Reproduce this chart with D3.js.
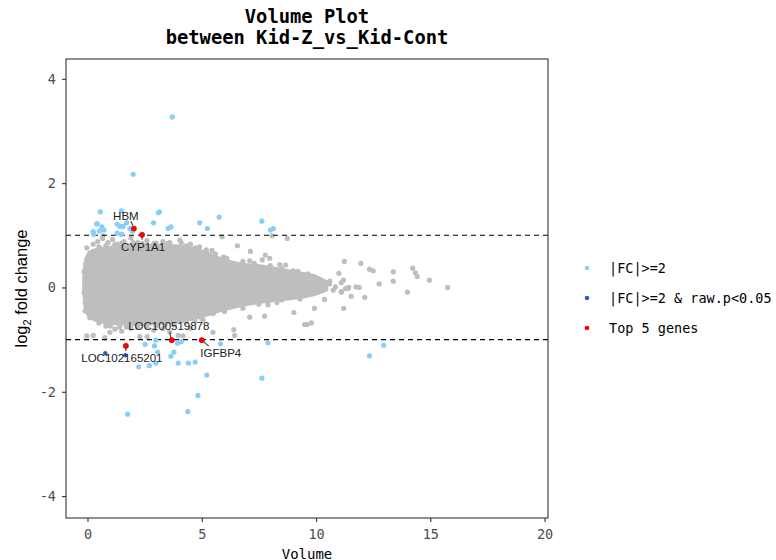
<!DOCTYPE html>
<html><head><meta charset="utf-8">
<script src="https://cdn.jsdelivr.net/npm/d3@7"></script>
<style>body{margin:0;background:#fff}svg{display:block}</style>
</head><body><svg id="c" width="776" height="560"></svg>
<script>
// ---------- data ----------
const titleLines = ["Volume Plot", "between Kid-Z_vs_Kid-Cont"];
const xTicks = [0, 5, 10, 15, 20];
const yTicks = [-4, -2, 0, 2, 4];
const thresholds = [1, -1];
const legendLabels = ["|FC|>=2", "|FC|>=2 & raw.p<0.05", "Top 5 genes"];

// dense core of non-significant genes (envelope)
const coreX     = [-0.14, -0.05, 0.25, 1.0, 2.4, 3.9, 5.0, 5.8, 6.4, 7.8, 9.3, 10.0, 10.45];
const coreUpper = [0.2, 0.55, 0.7, 0.76, 0.8, 0.79, 0.69, 0.55, 0.47, 0.39, 0.27, 0.2, 0.1];
const coreLower = [-0.1, -0.45, -0.6, -0.68, -0.7, -0.66, -0.55, -0.44, -0.37, -0.26, -0.18, -0.12, -0.04];

// scattered non-significant genes [volume, log2FC]
const grayPts = [
 [-0.03,0.76],[0.25,0.83],[0.66,0.94],[0.68,0.99],[0.45,0.88],[0.9,0.86],[1.1,0.92],[1.3,0.83],
 [1.49,1.02],[1.6,0.88],[1.9,0.95],[2.2,0.86],[2.6,0.9],[2.9,0.84],[3.3,0.88],[3.6,0.86],[4.04,0.91],
 [4.1,0.86],[4.5,0.83],[4.9,0.78],[5.45,0.71],[5.89,0.97],[5.96,0.58],[6.56,0.80],[7.10,0.51],
 [7.13,0.69],[7.65,0.53],[7.78,0.62],[7.97,0.56],[8.0,0.42],[8.07,0.99],[8.41,0.44],[8.67,0.43],
 [8.74,0.94],[9.21,0.31],[9.64,0.26],[9.93,0.21],[10.59,0.07],[10.85,0.01],[11.0,0.27],
 [0.1,0.66],[0.5,0.78],[0.8,0.8],[1.2,0.82],[1.5,0.85],[2.0,0.86],[2.4,0.84],[3.0,0.85],[3.5,0.84],
 [4.3,0.8],[4.7,0.76],[5.2,0.72],[5.6,0.64],[6.1,0.56],[6.8,0.5],[7.3,0.46],[8.5,0.36],[9.0,0.32],
 [-0.03,-0.93],[0.25,-0.92],[0.76,-0.96],[0.98,-0.86],[1.2,-0.8],[1.5,-0.84],[1.9,-0.78],
 [2.29,-0.94],[2.61,-0.94],[2.9,-0.82],[3.3,-0.79],[3.6,-0.85],[3.97,-0.92],[4.18,-0.93],[4.5,-0.78],
 [5.06,-0.62],[5.49,-0.86],[6.4,-0.81],[6.44,-0.92],[7.10,-0.57],[7.75,-0.55],[7.90,-0.33],
 [8.29,-0.29],[9.03,-0.48],[9.50,-0.71],[9.60,-0.71],[9.80,-0.68],[9.93,-0.40],[10.37,-0.23],
 [0.1,-0.58],[0.5,-0.68],[0.8,-0.74],[1.0,-0.74],[1.4,-0.76],[1.7,-0.76],[2.2,-0.77],[2.6,-0.75],
 [3.0,-0.74],[3.4,-0.72],[3.8,-0.72],[4.3,-0.66],[4.7,-0.64],[5.0,-0.6],[5.5,-0.5],[6.0,-0.46],
 [6.8,-0.4],[7.5,-0.32],[8.5,-0.24],[9.3,-0.22],
 [-0.15,0.3],[-0.15,-0.1],[-0.12,0.1],[-0.1,-0.3],[-0.08,0.45],[-0.1,-0.45],
 [11.24,0.50],[11.96,0.46],[12.34,0.35],[12.50,0.32],[13.38,0.30],[13.38,0.12],[14.23,0.37],
 [14.35,0.28],[14.43,0.21],[14.96,0.14],[15.76,0.0],[14.0,-0.09],[12.76,0.07],[11.89,0.0],
 [11.1,0.09],[11.29,-0.02],[11.4,-0.02],[11.43,0.0],[11.75,0.01],[11.11,-0.09],[11.2,0.14],
 [11.54,-0.17],[12.13,-0.19],[11.21,-0.40],[11.1,-0.08],[10.6,0.12],[10.75,-0.05]
];

// |FC|>=2
const fcPts = [
 [3.71,3.27],[2.0,2.17],[0.56,1.45],[1.49,1.47],[3.15,1.45],[3.1,1.43],[0.43,1.22],[0.63,1.16],
 [0.72,1.10],[0.52,1.08],[0.25,1.07],[0.28,1.02],[1.30,1.21],[1.42,1.17],[1.56,1.17],[1.71,1.24],
 [1.86,1.13],[1.97,1.08],[1.30,1.04],[1.49,1.02],[2.89,1.24],[3.53,1.13],[3.65,1.16],[4.91,1.24],
 [5.25,1.13],[5.76,1.35],[7.63,1.27],[8.01,1.10],[8.13,1.13],[0.40,1.22],
 [2.52,-1.09],[2.93,-1.12],[2.99,-1.01],[3.94,-1.07],[4.10,-1.04],[5.82,-1.08],[7.90,-1.06],
 [3.78,-1.24],[3.65,-1.32],[3.07,-1.24],[2.99,-1.45],[2.71,-1.50],[2.24,-1.52],[3.97,-1.45],
 [4.42,-1.45],[4.71,-1.43],[5.22,-1.68],[7.63,-1.74],[4.83,-2.07],[4.39,-2.38],[1.76,-2.43],
 [12.96,-1.11],[12.34,-1.31]
];
// |FC|>=2 & raw.p<0.05
const sigPts = [[0.78,-1.26],[1.65,-1.30]];
// top 5 genes
const topGenes = ["HBM", "CYP1A1", "LOC100519878", "IGFBP4", "LOC102165201"];
const topX = [2.03, 2.39, 3.69, 5.0, 1.68];
const topY = [1.13, 1.01, -1.01, -1.01, -1.12];

// ---------- layout ----------
const panel = {l: 66, r: 548, t: 59, b: 518};
const labelOffset = [[-8,-13],[1,12],[-3,-14],[19,13],[-4,12]];
const leader = [[[-1,-3],[-3,-7]],[[0,1],[0,5]],[[-1,-2],[-2,-8]],[[1,1],[7,6]],[[0,0],[0,5]]];
const colGray = "#BEBEBE", colFC = "#87CEFA", colSig = "#2E5BD9", colTop = "#FF0000";
const mono = "'DejaVu Sans Mono', 'Liberation Mono', monospace";
const sans = "'Liberation Sans', Arial, sans-serif";

const svg = d3.select("#c");
const x = d3.scaleLinear().domain([-0.94, 20.15]).range([panel.l, panel.r]);
const y = d3.scaleLinear().domain([-4.42, 4.38]).range([panel.b, panel.t]);

// core cloud
const core = coreX.map((v,i)=>({x:v, u:coreUpper[i], lo:coreLower[i]}));
svg.append("path").datum(core)
  .attr("d", d3.area().x(d=>x(d.x)).y0(d=>y(d.lo)).y1(d=>y(d.u)).curve(d3.curveMonotoneX))
  .attr("fill", colGray).attr("stroke", colGray).attr("stroke-width", 4).attr("stroke-linejoin","round");

const r = 2.6;
svg.append("g").selectAll("circle").data(grayPts).join("circle")
  .attr("cx", d=>x(d[0])).attr("cy", d=>y(d[1])).attr("r", r).attr("fill", colGray);

// threshold lines
svg.append("g").selectAll("line").data(thresholds).join("line")
  .attr("x1", panel.l).attr("x2", panel.r).attr("y1", d=>y(d)).attr("y2", d=>y(d))
  .attr("stroke", "#000").attr("stroke-width", 1.1).attr("stroke-dasharray", "5,4");

svg.append("g").selectAll("circle").data(fcPts).join("circle")
  .attr("cx", d=>x(d[0])).attr("cy", d=>y(d[1])).attr("r", r).attr("fill", colFC);
svg.append("g").selectAll("circle").data(sigPts).join("circle")
  .attr("cx", d=>x(d[0])).attr("cy", d=>y(d[1])).attr("r", 2.2).attr("fill", colSig);

// top genes
const tops = topGenes.map((g,i)=>({g, x:topX[i], y:topY[i], o:labelOffset[i], l:leader[i]}));
svg.append("g").selectAll("line").data(tops).join("line")
  .attr("x1", d=>x(d.x)+d.l[0][0]).attr("y1", d=>y(d.y)+d.l[0][1])
  .attr("x2", d=>x(d.x)+d.l[1][0]).attr("y2", d=>y(d.y)+d.l[1][1])
  .attr("stroke", "#444").attr("stroke-width", 1.2);
svg.append("g").selectAll("circle").data(tops).join("circle")
  .attr("cx", d=>x(d.x)).attr("cy", d=>y(d.y)).attr("r", r)
  .attr("fill", colTop).attr("stroke", "#C00000").attr("stroke-width", 0.6);
svg.append("g").selectAll("text").data(tops).join("text")
  .attr("x", d=>x(d.x)+d.o[0]).attr("y", d=>y(d.y)+d.o[1])
  .attr("text-anchor","middle").attr("dominant-baseline","central")
  .attr("font-family", sans).attr("font-size", 11.5).attr("fill","#222").text(d=>d.g);

// frame
svg.append("rect").attr("x", panel.l).attr("y", panel.t)
  .attr("width", panel.r-panel.l).attr("height", panel.b-panel.t)
  .attr("fill","none").attr("stroke","#333").attr("stroke-width",1.1);

// axes
const xa = svg.append("g").attr("transform", `translate(0,${panel.b})`)
  .call(d3.axisBottom(x).tickValues(xTicks).tickSize(4).tickPadding(7).tickFormat(d3.format("d")));
const ya = svg.append("g").attr("transform", `translate(${panel.l},0)`)
  .call(d3.axisLeft(y).tickValues(yTicks).tickSize(4).tickPadding(6).tickFormat(d=>d<0?"-"+Math.abs(d):d));
[xa, ya].forEach(a=>{
  a.select(".domain").remove();
  a.selectAll(".tick line").attr("stroke","#333").attr("stroke-width",1.1);
  a.selectAll(".tick text").attr("font-family", mono).attr("font-size", 13.5).attr("fill","#4D4D4D");
});

// titles
svg.append("g").selectAll("text").data(titleLines).join("text")
  .attr("x", (panel.l+panel.r)/2).attr("y", (d,i)=>23+i*21)
  .attr("text-anchor","middle").attr("font-family", mono).attr("font-weight","bold")
  .attr("font-size", 18.8).attr("fill","#000").text(d=>d);

svg.append("text").attr("x", (panel.l+panel.r)/2).attr("y", 558.5)
  .attr("text-anchor","middle").attr("font-family", mono).attr("font-size", 14).attr("fill","#000")
  .text("Volume");

const yl = svg.append("text").attr("transform", `translate(27,${(panel.t+panel.b)/2}) rotate(-90)`)
  .attr("text-anchor","middle").attr("font-family", sans).attr("font-size", 16.5).attr("fill","#000");
yl.append("tspan").text("log");
yl.append("tspan").attr("font-size", 11).attr("dy", 4).text("2");
yl.append("tspan").attr("dy", -4).text(" fold change");

// legend
const legCols = [colFC, colSig, colTop];
const lg = svg.append("g").selectAll("g").data(legendLabels).join("g")
  .attr("transform", (d,i)=>`translate(587,${268+i*30})`);
lg.append("circle").attr("r", 2.3).attr("fill", (d,i)=>legCols[i]);
lg.append("text").attr("x", 22).attr("dominant-baseline","central")
  .attr("font-family", mono).attr("font-size", 13.5).attr("fill","#000").text(d=>d);
</script></body></html>
